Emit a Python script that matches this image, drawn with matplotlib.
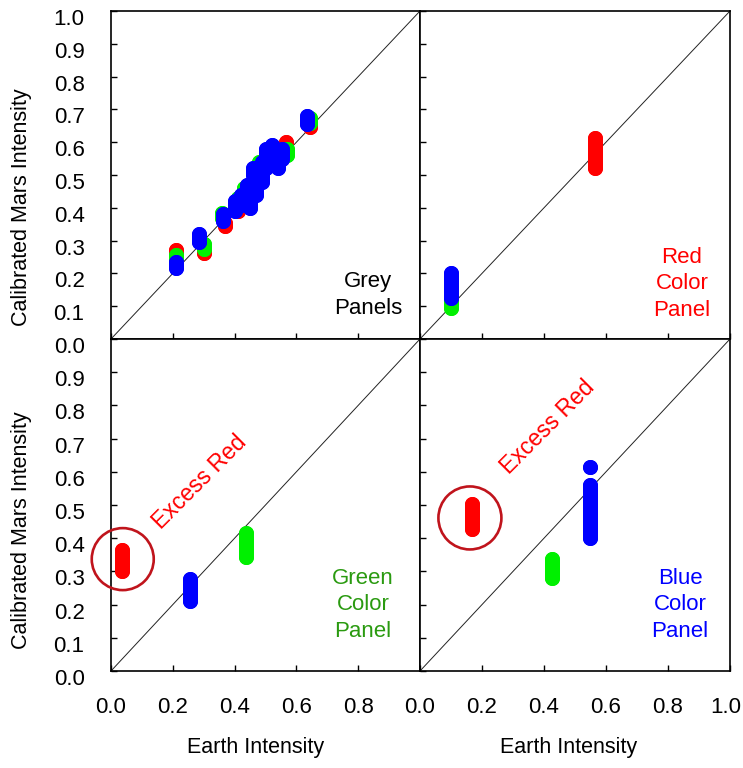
import matplotlib
matplotlib.use("Agg")
import matplotlib.pyplot as plt
from matplotlib.patches import Ellipse
from matplotlib.transforms import ScaledTranslation

plt.rcParams["font.family"] = ["Liberation Sans", "DejaVu Sans"]

# -----------------------------------------------------------------------------
# Data: each colour blob is a run of measurements at one Earth intensity,
# stored as x, lowest y and highest y of the run.
# -----------------------------------------------------------------------------

# Grey panels (top left)
grey_red_x = [0.209, 0.300, 0.370, 0.410, 0.440, 0.470, 0.510, 0.565, 0.645]
grey_red_lo = [0.255, 0.262, 0.345, 0.390, 0.420, 0.510, 0.530, 0.585, 0.645]
grey_red_hi = [0.272, 0.275, 0.355, 0.400, 0.430, 0.520, 0.550, 0.600, 0.665]

grey_green_x = [0.209, 0.300, 0.360, 0.410, 0.430, 0.460, 0.480, 0.530, 0.570, 0.645]
grey_green_lo = [0.235, 0.275, 0.370, 0.410, 0.440, 0.450, 0.520, 0.550, 0.560, 0.660]
grey_green_hi = [0.255, 0.290, 0.385, 0.430, 0.460, 0.480, 0.540, 0.570, 0.580, 0.675]

grey_blue_x = [0.209, 0.285, 0.362, 0.400, 0.420, 0.440, 0.450, 0.470, 0.460,
               0.490, 0.500, 0.520, 0.540, 0.555, 0.635]
grey_blue_lo = [0.215, 0.295, 0.360, 0.390, 0.410, 0.430, 0.400, 0.440, 0.500,
                0.480, 0.520, 0.540, 0.520, 0.550, 0.655]
grey_blue_hi = [0.235, 0.320, 0.380, 0.420, 0.440, 0.470, 0.450, 0.490, 0.520,
                0.540, 0.580, 0.590, 0.570, 0.580, 0.680]

# Red colour panel (top right)
redp_red_x, redp_red_lo, redp_red_hi = [0.565], [0.521], [0.613]
redp_green_x, redp_green_lo, redp_green_hi = [0.100], [0.095], [0.165]
redp_blue_x, redp_blue_lo, redp_blue_hi = [0.100], [0.125], [0.202]

# Green colour panel (bottom left)
greenp_red_x, greenp_red_lo, greenp_red_hi = [0.035], [0.300], [0.365]
greenp_green_x, greenp_green_lo, greenp_green_hi = [0.437], [0.343], [0.416]
greenp_blue_x, greenp_blue_lo, greenp_blue_hi = [0.256], [0.210], [0.278]

# Blue colour panel (bottom right)
bluep_red_x, bluep_red_lo, bluep_red_hi = [0.167], [0.429], [0.502]
bluep_green_x, bluep_green_lo, bluep_green_hi = [0.427], [0.280], [0.338]
bluep_blue_x = [0.548, 0.548]
bluep_blue_lo = [0.400, 0.614]
bluep_blue_hi = [0.559, 0.614]

x_ticks = [0.0, 0.2, 0.4, 0.6, 0.8, 1.0]
y_ticks = [0.0, 0.1, 0.2, 0.3, 0.4, 0.5, 0.6, 0.7, 0.8, 0.9, 1.0]

RED = "#ff0000"
GREEN = "#00f000"
BLUE = "#0000ff"
CIRCLE = "#c0141c"

# -----------------------------------------------------------------------------
# Figure and the four panels (placed in pixels)
# -----------------------------------------------------------------------------
W, H = 743, 768
fig = plt.figure(figsize=(W / 100, H / 100), dpi=100)


def px_axes(left, top, right, bottom):
    return fig.add_axes([left / W, 1 - bottom / H, (right - left) / W, (bottom - top) / H])


ax_grey = px_axes(111, 11, 420, 339)
ax_red = px_axes(420, 11, 730, 339)
ax_green = px_axes(111, 339, 420, 671)
ax_blue = px_axes(420, 339, 730, 671)

label_shift = ScaledTranslation(0, -6 / 100, fig.dpi_scale_trans)

for ax in [ax_grey, ax_red, ax_green, ax_blue]:
    ax.set_xlim(0, 1)
    ax.set_ylim(0, 1)
    ax.plot([0, 1], [0, 1], color="#222222", lw=0.7, zorder=1)
    for side in ["left", "bottom", "top", "right"]:
        ax.spines[side].set_linewidth(1.2)
    ax.set_xticks(x_ticks)
    ax.set_yticks(y_ticks)
    ax.tick_params(direction="in", length=4, width=1, labelsize=16, pad=19,
                   top=False, right=False)


def draw_runs(ax, xs, lows, highs, color):
    for x, lo, hi in zip(xs, lows, highs):
        ax.plot([x, x], [lo, hi], color=color, lw=10.8, solid_capstyle="round",
                marker="o", ms=10.8, mew=0, zorder=3)


draw_runs(ax_grey, grey_red_x, grey_red_lo, grey_red_hi, RED)
draw_runs(ax_grey, grey_green_x, grey_green_lo, grey_green_hi, GREEN)
draw_runs(ax_grey, grey_blue_x, grey_blue_lo, grey_blue_hi, BLUE)

draw_runs(ax_red, redp_red_x, redp_red_lo, redp_red_hi, RED)
draw_runs(ax_red, redp_green_x, redp_green_lo, redp_green_hi, GREEN)
draw_runs(ax_red, redp_blue_x, redp_blue_lo, redp_blue_hi, BLUE)

draw_runs(ax_green, greenp_red_x, greenp_red_lo, greenp_red_hi, RED)
draw_runs(ax_green, greenp_green_x, greenp_green_lo, greenp_green_hi, GREEN)
draw_runs(ax_green, greenp_blue_x, greenp_blue_lo, greenp_blue_hi, BLUE)

draw_runs(ax_blue, bluep_red_x, bluep_red_lo, bluep_red_hi, RED)
draw_runs(ax_blue, bluep_green_x, bluep_green_lo, bluep_green_hi, GREEN)
draw_runs(ax_blue, bluep_blue_x, bluep_blue_lo, bluep_blue_hi, BLUE)

# Tick labels: only on the outer edges
ax_grey.set_xticklabels([])
ax_red.set_xticklabels([])
ax_red.set_yticklabels([])
ax_blue.set_yticklabels([])
ax_grey.set_yticklabels([f"{v:.1f}" for v in y_ticks])
ax_green.set_yticklabels([f"{v:.1f}" for v in y_ticks[:-1]] + [""])
ax_green.set_xticklabels([f"{v:.1f}" for v in x_ticks[:-1]] + [""])
ax_blue.set_xticklabels([f"{v:.1f}" for v in x_ticks])

for ax in [ax_grey, ax_green]:
    for lab in ax.get_yticklabels():
        lab.set_transform(lab.get_transform() + label_shift)

# keep the last x label inside the picture
last_lab = ax_blue.get_xticklabels()[-1]
last_lab.set_transform(last_lab.get_transform()
                       + ScaledTranslation(-4 / 100, 0, fig.dpi_scale_trans))

# Panel names
ax_grey.text(0.832, 0.134, "Grey\nPanels", color="black", fontsize=16,
             ha="center", va="center", linespacing=1.35)
ax_red.text(0.845, 0.168, "Red\nColor\nPanel", color=RED, fontsize=16,
            ha="center", va="center", linespacing=1.35)
ax_green.text(0.816, 0.199, "Green\nColor\nPanel", color="#2a9a10", fontsize=16,
              ha="center", va="center", linespacing=1.35)
ax_blue.text(0.839, 0.199, "Blue\nColor\nPanel", color=BLUE, fontsize=16,
             ha="center", va="center", linespacing=1.35)

# Excess red callouts
ax_green.text(0.288, 0.569, "Excess Red", color=RED, fontsize=16.5, rotation=45,
              ha="center", va="center", rotation_mode="anchor")
ax_blue.text(0.413, 0.735, "Excess Red", color=RED, fontsize=16.5, rotation=45,
             ha="center", va="center", rotation_mode="anchor")
ax_green.add_patch(Ellipse((0.038, 0.337), 62 / 309, 62 / 332, fill=False,
                           edgecolor=CIRCLE, lw=1.9, clip_on=False, zorder=4))
ax_blue.add_patch(Ellipse((0.161, 0.461), 63 / 310, 63 / 332, fill=False,
                          edgecolor=CIRCLE, lw=1.9, clip_on=False, zorder=4))

# Axis titles
fig.text(22 / W, 1 - 207 / H, "Calibrated Mars Intensity", rotation=90,
         fontsize=15.5, ha="center", va="center")
fig.text(22 / W, 1 - 530 / H, "Calibrated Mars Intensity", rotation=90,
         fontsize=15.5, ha="center", va="center")
fig.text(256 / W, 1 - 748 / H, "Earth Intensity", fontsize=15.5,
         ha="center", va="center")
fig.text(569 / W, 1 - 748 / H, "Earth Intensity", fontsize=15.5,
         ha="center", va="center")

fig.savefig("out.png", dpi=100)
